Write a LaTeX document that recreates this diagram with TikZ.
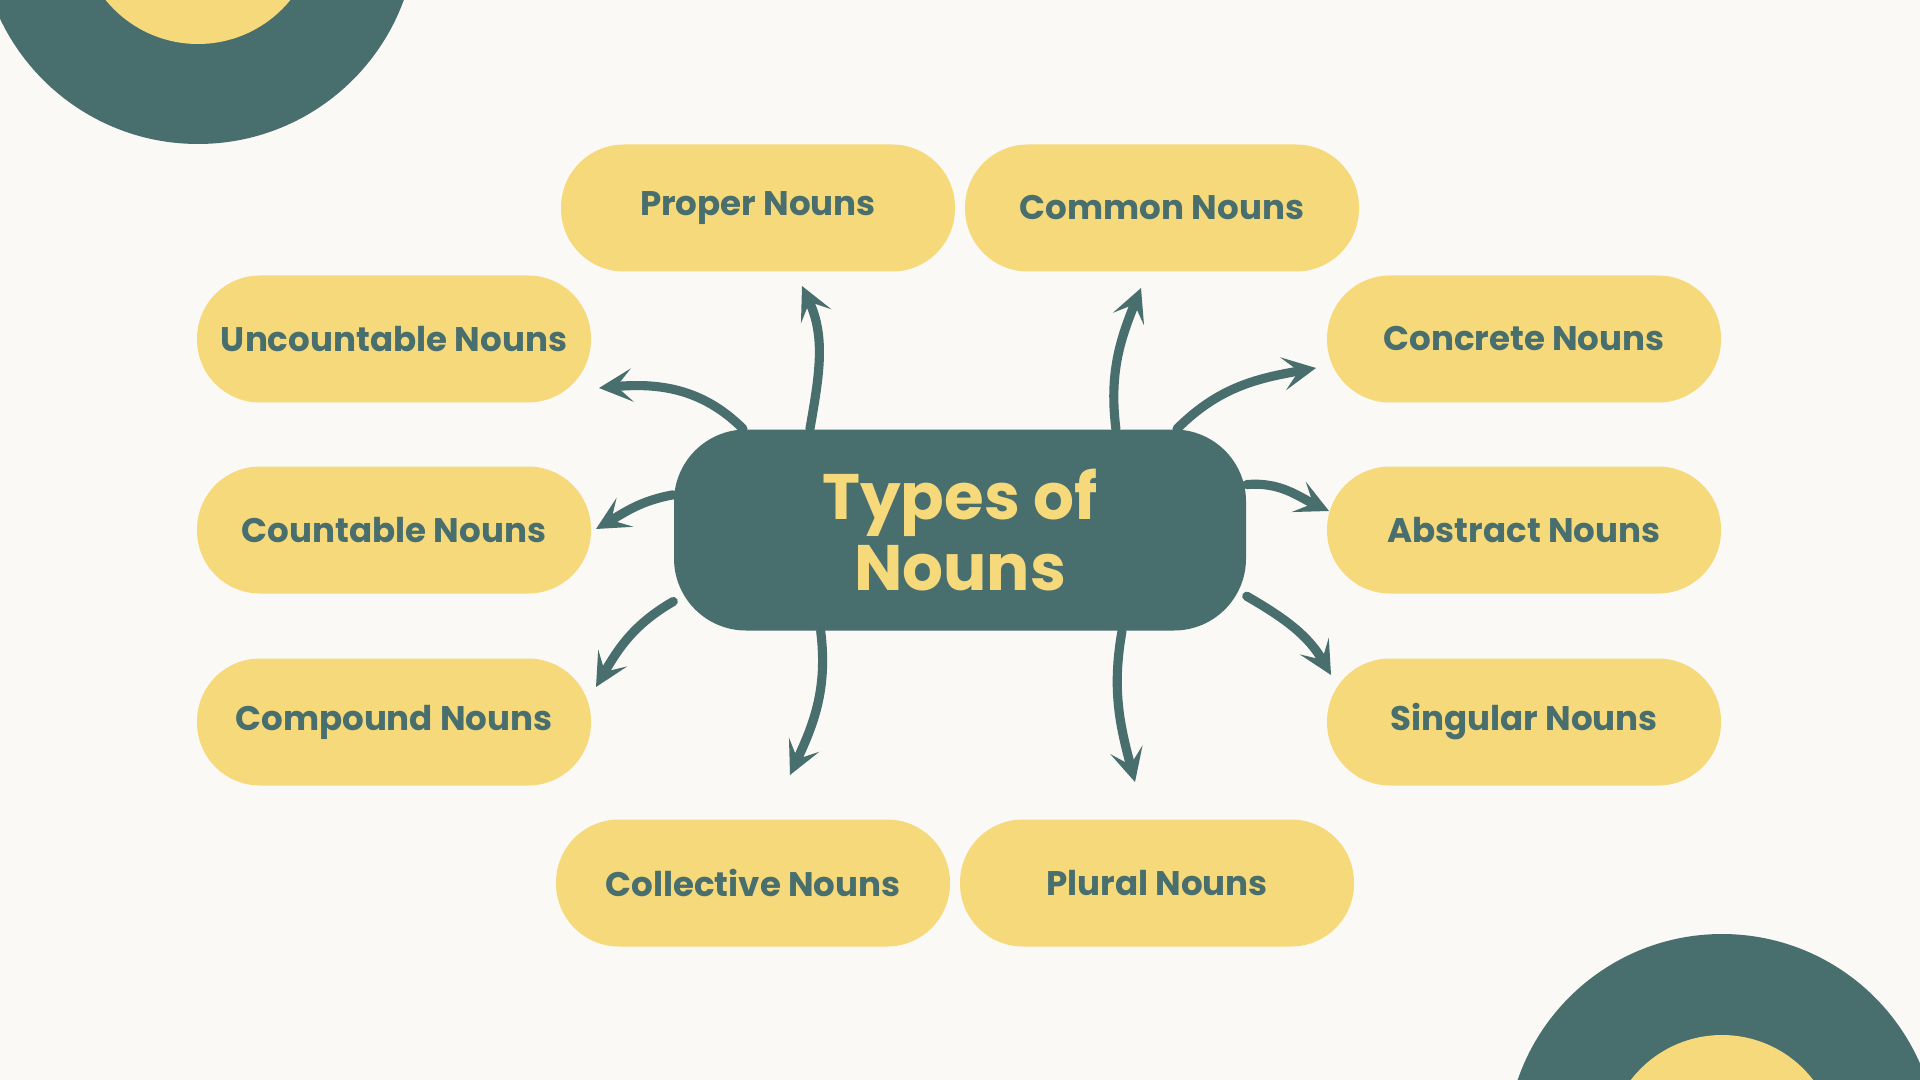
\documentclass[tikz,border=0pt]{standalone}
\usepackage{fontspec}
\setmainfont{Poppins}
\usetikzlibrary{arrows.meta}
\definecolor{nounteal}{HTML}{486E6E}
\definecolor{nounyellow}{HTML}{F6D97A}
\definecolor{paper}{HTML}{FAF9F5}
\begin{document}
\begin{tikzpicture}[every node/.style={rectangle},
  pill/.style={fill=nounyellow, text=nounteal, minimum width=3.94cm, minimum height=1.27cm, rounded corners=0.63cm, font=\fontsize{9.7}{12}\selectfont\bfseries},
  hub/.style={fill=nounteal, text=nounyellow, minimum width=5.72cm, minimum height=2.01cm, rounded corners=0.72cm, align=center, font=\fontsize{18.3}{20}\selectfont\bfseries},
  >={Stealth[length=9.5pt, width=9.5pt, inset=4.5pt, line width=0.8pt]},
  link/.style={->, draw=nounteal, line width=2.6pt, line cap=round}]
\useasboundingbox (0,0) rectangle (19.2,-10.8);
\clip (0,0) rectangle (19.2,-10.8);
\fill[paper] (0,0) rectangle (19.2,-10.8);
% Corner rings
\fill[nounteal] (1.98,0.75) circle (2.19);
\fill[nounyellow] (1.98,0.75) circle (1.19);
\fill[nounteal] (17.22,-11.50) circle (2.16);
\fill[nounyellow] (17.22,-11.50) circle (1.15);
% Define all the nodes.
% Types of nouns
\node[hub] (types_nouns) at (9.60,-5.30) {Types of\\Nouns};
% Proper nouns
\node[pill] (proper_nouns) at (7.58,-2.08) {Proper Nouns};
% Common nouns
\node[pill] (common_nouns) at (11.62,-2.08) {Common Nouns};
% Uncountable nouns
\node[pill] (uncount_nouns) at (3.94,-3.39) {Uncountable Nouns};
% Concrete nouns
\node[pill] (concrete_nouns) at (15.24,-3.39) {Concrete Nouns};
% Countable nouns
\node[pill] (count_nouns) at (3.94,-5.30) {Countable Nouns};
% Abstract nouns
\node[pill] (abstract_nouns) at (15.24,-5.30) {Abstract Nouns};
% Compound nouns
\node[pill] (compound_nouns) at (3.94,-7.22) {Compound Nouns};
% Singular nouns
\node[pill] (singular_nouns) at (15.24,-7.22) {Singular Nouns};
% Collective nouns
\node[pill] (collective_nouns) at (7.53,-8.83) {Collective Nouns};
% Plural nouns
\node[pill] (plural_nouns) at (11.57,-8.83) {Plural Nouns};
% Arrow ends
\coordinate (tip_proper) at (8.02,-2.86);
\coordinate (tip_common) at (11.41,-2.88);
\coordinate (tip_uncount) at (5.99,-3.88);
\coordinate (tip_concrete) at (13.16,-3.68);
\coordinate (tip_count) at (5.96,-5.29);
\coordinate (tip_abstract) at (13.29,-5.11);
\coordinate (tip_compound) at (5.96,-6.87);
\coordinate (tip_singular) at (13.31,-6.75);
\coordinate (tip_collective) at (7.90,-7.75);
\coordinate (tip_plural) at (11.35,-7.82);
% Draw the arrows
\draw[link] (types_nouns.155) to[out=135, in=5] (tip_uncount);
\draw[link] (types_nouns.146) to[out=80, in=-65] (tip_proper);
\draw[link] (types_nouns.33) to[out=97, in=-112] (tip_common);
\draw[link] (types_nouns.25) to[out=45, in=190] (tip_concrete);
\draw[link] (types_nouns.9) to[out=5, in=155] (tip_abstract);
\draw[link] (types_nouns.173) to[out=190, in=30] (tip_count);
\draw[link] (types_nouns.194) to[out=210, in=60] (tip_compound);
\draw[link] (types_nouns.216) to[out=-83, in=65] (tip_collective);
\draw[link] (types_nouns.328) to[out=-100, in=105] (tip_plural);
\draw[link] (types_nouns.347) to[out=-30, in=120] (tip_singular);
\end{tikzpicture}
\end{document}
